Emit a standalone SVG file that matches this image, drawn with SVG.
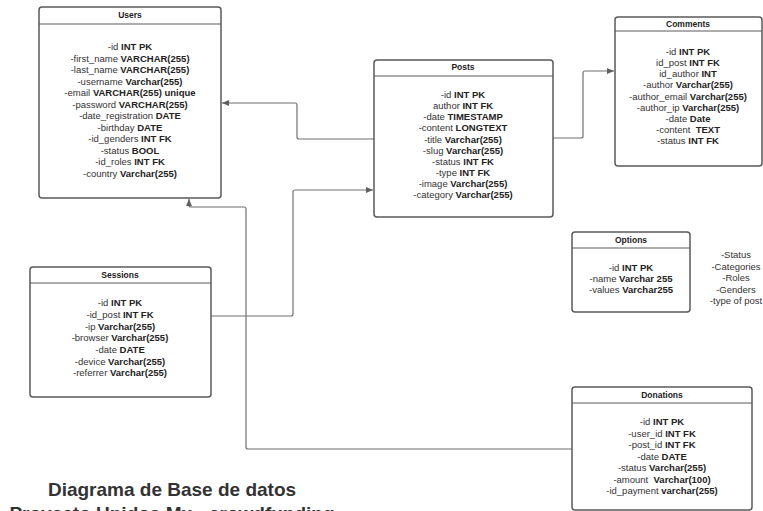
<svg xmlns="http://www.w3.org/2000/svg" width="763" height="511" viewBox="0 0 763 511">
<style>
.box{fill:#fff;stroke:#5a5a5a;stroke-width:1.5}
.hl{stroke:#5a5a5a;stroke-width:1.2}
.h{font-family:"Liberation Sans",Arial,sans-serif;font-size:8.5px;font-weight:bold;fill:#222;text-anchor:middle}
.t{font-family:"Liberation Sans",Arial,sans-serif;font-size:9.5px;fill:#333;text-anchor:middle;white-space:pre}
.t tspan.b{font-weight:bold;fill:#222}
.c{fill:none;stroke:#707070;stroke-width:1.2;stroke-linejoin:round}
.title{font-family:"Liberation Sans",Arial,sans-serif;font-size:19px;font-weight:bold;fill:#333;text-anchor:middle}
</style>
<defs>
<marker id="arr" markerWidth="8" markerHeight="8" refX="7" refY="4" orient="auto" markerUnits="userSpaceOnUse">
<path d="M0,1 L7,4 L0,7 Z" fill="#606060"/>
</marker>
</defs>
<rect width="763" height="511" fill="#fff"/>

<g id="connectors">
<path class="c" d="M374,139 H299 Q297,139 297,137 V105 Q297,103 295,103 H222" marker-end="url(#arr)"/>
<path class="c" d="M553,138 H581 Q583,138 583,136 V73 Q583,71 585,71 H614" marker-end="url(#arr)"/>
<path class="c" d="M211,316 H291 Q293,316 293,314 V192 Q293,190 295,190 H373" marker-end="url(#arr)"/>
<path class="c" d="M572,449 H248 Q246,449 246,447 V209 Q246,207 244,207 H191 Q189,207 189,205 V199" marker-end="url(#arr)"/>
</g>

<g id="users">
<rect class="box" x="39" y="7" width="182" height="191" rx="3"/>
<line class="hl" x1="39" y1="24" x2="221" y2="24"/>
<text class="h" x="130" y="18">Users</text>
<text class="t" x="130" y="50">-id <tspan class="b">INT PK</tspan></text>
<text class="t" x="130" y="61.5">-first_name <tspan class="b">VARCHAR(255)</tspan></text>
<text class="t" x="130" y="73">-last_name <tspan class="b">VARCHAR(255)</tspan></text>
<text class="t" x="130" y="84.5">-username <tspan class="b">Varchar(255)</tspan></text>
<text class="t" x="130" y="96">-email <tspan class="b">VARCHAR(255) unique</tspan></text>
<text class="t" x="130" y="107.5">-password <tspan class="b">VARCHAR(255)</tspan></text>
<text class="t" x="130" y="119">-date_registration <tspan class="b">DATE</tspan></text>
<text class="t" x="130" y="130.5">-birthday <tspan class="b">DATE</tspan></text>
<text class="t" x="130" y="142">-id_genders <tspan class="b">INT FK</tspan></text>
<text class="t" x="130" y="153.5">-status <tspan class="b">BOOL</tspan></text>
<text class="t" x="130" y="165">-id_roles <tspan class="b">INT FK</tspan></text>
<text class="t" x="130" y="176.5">-country <tspan class="b">Varchar(255)</tspan></text>
</g>

<g id="posts">
<rect class="box" x="374" y="60" width="179" height="157" rx="3"/>
<line class="hl" x1="374" y1="76" x2="553" y2="76"/>
<text class="h" x="463" y="70">Posts</text>
<text class="t" x="463" y="98">-id <tspan class="b">INT PK</tspan></text>
<text class="t" x="463" y="109">author <tspan class="b">INT FK</tspan></text>
<text class="t" x="463" y="120">-date <tspan class="b">TIMESTAMP</tspan></text>
<text class="t" x="463" y="131">-content <tspan class="b">LONGTEXT</tspan></text>
<text class="t" x="463" y="142.5">-title <tspan class="b">Varchar(255)</tspan></text>
<text class="t" x="463" y="153.5">-slug <tspan class="b">Varchar(255)</tspan></text>
<text class="t" x="463" y="164.5">-status <tspan class="b">INT FK</tspan></text>
<text class="t" x="463" y="175.5">-type <tspan class="b">INT FK</tspan></text>
<text class="t" x="463" y="186.5">-image <tspan class="b">Varchar(255)</tspan></text>
<text class="t" x="463" y="197.5">-category <tspan class="b">Varchar(255)</tspan></text>
</g>

<g id="comments">
<rect class="box" x="615" y="17" width="147" height="149" rx="3"/>
<line class="hl" x1="615" y1="31" x2="762" y2="31"/>
<text class="h" x="688" y="27">Comments</text>
<text class="t" x="688" y="55">-id <tspan class="b">INT PK</tspan></text>
<text class="t" x="688" y="66">id_post <tspan class="b">INT FK</tspan></text>
<text class="t" x="688" y="77">id_author <tspan class="b">INT</tspan></text>
<text class="t" x="688" y="88">-author <tspan class="b">Varchar(255)</tspan></text>
<text class="t" x="688" y="99.5">-author_email <tspan class="b">Varchar(255)</tspan></text>
<text class="t" x="688" y="110.5">-author_ip <tspan class="b">Varchar(255)</tspan></text>
<text class="t" x="688" y="121.5">-date <tspan class="b">Date</tspan></text>
<text class="t" x="688" y="132.5">-content  <tspan class="b">TEXT</tspan></text>
<text class="t" x="688" y="143.5">-status <tspan class="b">INT FK</tspan></text>
</g>

<g id="options">
<rect class="box" x="572" y="232" width="118" height="80" rx="3"/>
<line class="hl" x1="572" y1="248" x2="690" y2="248"/>
<text class="h" x="631" y="243">Options</text>
<text class="t" x="631" y="271">-id <tspan class="b">INT PK</tspan></text>
<text class="t" x="631" y="282">-name <tspan class="b">Varchar 255</tspan></text>
<text class="t" x="631" y="293">-values <tspan class="b">Varchar255</tspan></text>
</g>

<g id="legend">
<text class="t" x="736" y="258">-Status</text>
<text class="t" x="736" y="269.5">-Categories</text>
<text class="t" x="736" y="281">-Roles</text>
<text class="t" x="736" y="292.5">-Genders</text>
<text class="t" x="736" y="304">-type of post</text>
</g>

<g id="sessions">
<rect class="box" x="30" y="267" width="181" height="130" rx="3"/>
<line class="hl" x1="30" y1="283" x2="211" y2="283"/>
<text class="h" x="120" y="278">Sessions</text>
<text class="t" x="120" y="306">-id <tspan class="b">INT PK</tspan></text>
<text class="t" x="120" y="318">-id_post <tspan class="b">INT FK</tspan></text>
<text class="t" x="120" y="329.5">-ip <tspan class="b">Varchar(255)</tspan></text>
<text class="t" x="120" y="341">-browser <tspan class="b">Varchar(255)</tspan></text>
<text class="t" x="120" y="353">-date <tspan class="b">DATE</tspan></text>
<text class="t" x="120" y="364.5">-device <tspan class="b">Varchar(255)</tspan></text>
<text class="t" x="120" y="376">-referrer <tspan class="b">Varchar(255)</tspan></text>
</g>

<g id="donations">
<rect class="box" x="572" y="387" width="180" height="123" rx="3"/>
<line class="hl" x1="572" y1="403" x2="752" y2="403"/>
<text class="h" x="662" y="398">Donations</text>
<text class="t" x="662" y="425">-id <tspan class="b">INT PK</tspan></text>
<text class="t" x="662" y="436.5">-user_id <tspan class="b">INT FK</tspan></text>
<text class="t" x="662" y="448">-post_id <tspan class="b">INT FK</tspan></text>
<text class="t" x="662" y="459.5">-date <tspan class="b">DATE</tspan></text>
<text class="t" x="662" y="471">-status <tspan class="b">Varchar(255)</tspan></text>
<text class="t" x="662" y="482.5">-amount  <tspan class="b">Varchar(100)</tspan></text>
<text class="t" x="662" y="494">-id_payment <tspan class="b">varchar(255)</tspan></text>
</g>

<g id="title">
<text class="title" x="172" y="496">Diagrama de Base de datos</text>
<text class="title" x="172" y="520">Proyecto Unidos Mx - crowdfunding</text>
</g>
</svg>
